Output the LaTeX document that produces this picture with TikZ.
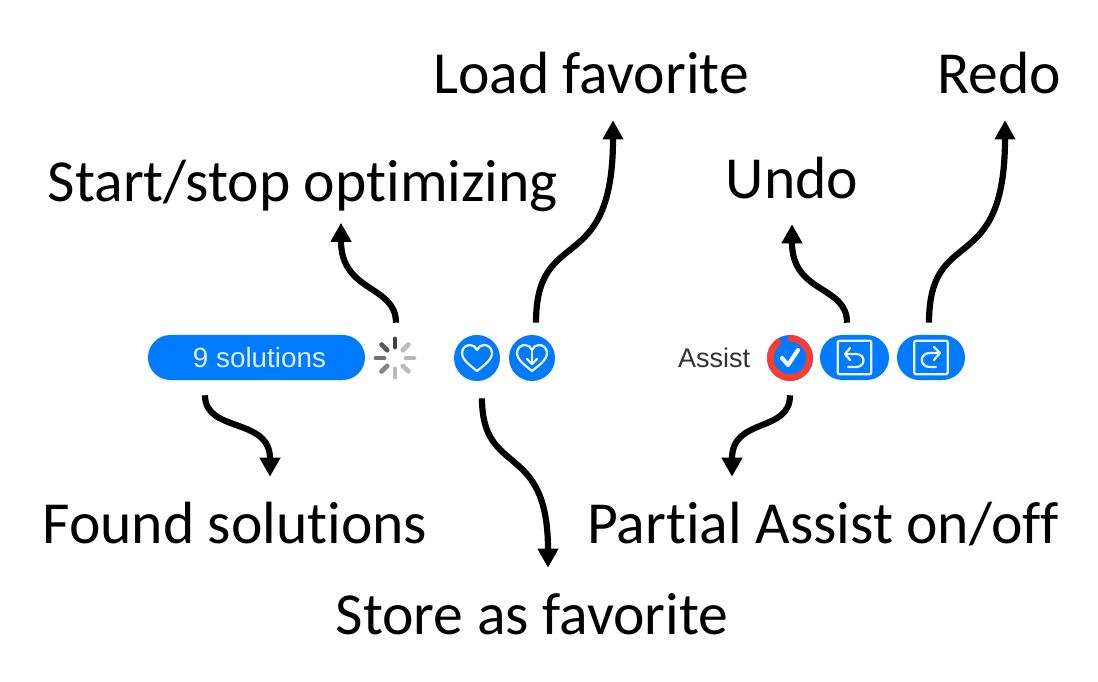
\documentclass[tikz,border=0pt]{standalone}
\usepackage{fontspec}
\setmainfont[Ligatures=CommonOff]{Carlito}
\newfontfamily\uifont{Liberation Sans}
\usetikzlibrary{arrows.meta, positioning}
\definecolor{uiblue}{HTML}{007AFF}
\definecolor{uired}{HTML}{FF3B30}

\begin{document}
\begin{tikzpicture}[
  x=0.025cm, y=-0.025cm,
  label/.style={
    anchor=base,
    inner sep=0pt,
    text height=0.95cm,
    text depth=0.35cm,
    font=\fontsize{42.4}{48}\selectfont
  },
  pill/.style={
    fill=uiblue,
    rounded corners=0.56cm,
    minimum height=1.125cm,
    inner sep=0pt,
    text=white!88!uiblue,
    font=\uifont\fontsize{19.8}{24}\selectfont
  },
  round/.style={
    circle,
    fill=uiblue,
    minimum size=1.15cm,
    inner sep=0pt
  },
  glyph/.style={draw=white!92!uiblue, line width=1.6pt, line cap=round, line join=round},
  iconbox/.style={
    draw=white!92!uiblue,
    line width=1.6pt,
    rounded corners=0.05cm,
    minimum size=0.84cm,
    inner sep=0pt
  },
  spoke/.style={line width=3.4pt, line cap=round},
  arrow/.style={-{Triangle[length=4.8mm, width=5mm]}, line width=4.4pt, draw=black},
  heart/.pic={
    \draw[glyph] (0,13) .. controls (-6,8) and (-15,2) .. (-15,-5)
      .. controls (-15,-10) and (-11,-13) .. (-7,-13)
      .. controls (-4,-13) and (-1,-11) .. (0,-8)
      .. controls (1,-11) and (4,-13) .. (7,-13)
      .. controls (11,-13) and (15,-10) .. (15,-5)
      .. controls (15,2) and (6,8) .. (0,13) -- cycle;
  }
]
  \useasboundingbox (0,0) rectangle (1098,682);

  % captions
  \node[label] (loadlabel) at (591,94) {Load favorite};
  \node[label] (redolabel) at (999,94) {Redo};
  \node[label] (startlabel) at (303,202) {Start/stop optimizing};
  \node[label] (undolabel) at (792,199) {Undo};
  \node[label] (foundlabel) at (235,543) {Found solutions};
  \node[label] (partiallabel) at (823,543) {Partial Assist on/off};
  \node[label] (storelabel) at (532,634) {Store as favorite};

  % toolbar
  \node[pill, minimum width=5.425cm] (solutions) at (256.5,357.5) {\hspace*{0.15cm}9 solutions};
  \node[circle, minimum size=1.1cm, inner sep=0pt] (spinner) at (395,358) {};
  \foreach \ang/\shade in {-90/75, -135/65, 180/55, 135/48, 90/28, 45/26, 0/28, -45/26}
    \draw[spoke, draw=black!\shade] ([shift={(\ang:11)}]spinner.center) -- ([shift={(\ang:19)}]spinner.center);

  \node[round] (store) at (477,358) {};
  \pic at (store.center) {heart};
  \node[round] (load) at (532,358) {};
  \pic at (load.center) {heart};
  \draw[glyph] (532,350) -- (532,364);
  \draw[glyph] (527,359) -- (532,364) -- (537,359);

  \node[font=\uifont\fontsize{19.2}{24}\selectfont, text=black!80, inner sep=0pt] (assist) at (714,358) {Assist};
  \node[round] (check) at (790,358) {};
  \draw[uired, line width=4.6pt] ([shift={(-95:19.7)}]check.center) arc (-95:240:19.7);
  \draw[white, line width=2.9pt, line cap=round, line join=round] (782,358) -- (788,365) -- (798,350);

  \node[pill, minimum width=1.725cm] (undo) at (854.5,357.5) {};
  \node[iconbox] (undobox) at (undo.center) {};
  \draw[glyph] (850,348) -- (845,354) -- (850,360);
  \draw[glyph] (845,354) -- (856,354) .. controls (866,354) and (866,367) .. (856,367) -- (848,367);

  \node[pill, minimum width=1.7cm] (redo) at (931,357.5) {};
  \node[iconbox] (redobox) at (redo.center) {};
  \draw[glyph] (934,347) -- (940,353) -- (934,360);
  \draw[glyph] (940,353) -- (930,353) .. controls (919,353) and (919,367) .. (930,367) -- (936,367);

  % connectors
  \draw[arrow] ([shift={(1,-13)}]spinner.north) .. controls +(0,-38) and +(0,70) .. ([shift={(38,6.5)}]startlabel.south);
  \draw[arrow] ([shift={(4,-12)}]load.north) .. controls +(0,-100) and +(0,160) .. ([shift={(22,12)}]loadlabel.south);
  \draw[arrow] ([shift={(-7.5,-12)}]undo.north) .. controls +(0,-38) and +(0,70) .. ([shift={(0,11)}]undolabel.south);
  \draw[arrow] ([shift={(-2,-12)}]redo.north) .. controls +(0,-100) and +(0,160) .. ([shift={(6,12)}]redolabel.south);
  \draw[arrow] ([shift={(-51.5,15)}]solutions.south) .. controls +(0,38) and +(0,-60) .. ([shift={(35,-28)}]foundlabel.north);
  \draw[arrow] ([shift={(5,17)}]store.south) .. controls +(0,80) and +(0,-128) .. ([shift={(16,-28)}]storelabel.north);
  \draw[arrow] ([shift={(0,14)}]check.south) .. controls +(0,38) and +(0,-60) .. ([shift={(-91,-28)}]partiallabel.north);
\end{tikzpicture}
\end{document}
